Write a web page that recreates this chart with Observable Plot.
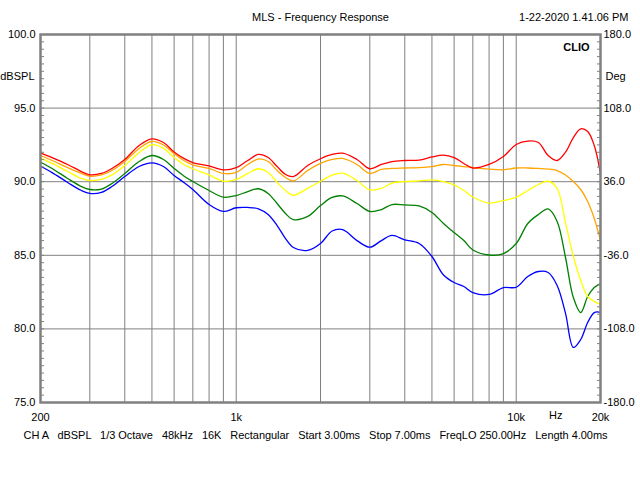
<!DOCTYPE html>
<html>
<head>
<meta charset="utf-8">
<script src="https://cdn.jsdelivr.net/npm/d3@7"></script>
<script src="https://cdn.jsdelivr.net/npm/@observablehq/plot@0.6"></script>
<style>
  html, body { margin: 0; padding: 0; background: #fff; }
  svg text { white-space: pre; }
</style>
</head>
<body>
<div id="chart"></div>
<script>
const freqs = [200,220,250,280,300,330,360,400,450,500,550,600,650,700,800,900,1000,1100,1200,1300,1400,1500,1600,1800,2000,2200,2400,2700,3000,3300,3600,4000,4500,5000,5500,6000,6500,7000,8000,9000,10000,11000,12000,13000,14000,15000,16000,17000,18000,19000,20000];

const redDb = [91.96,91.64,91.17,90.69,90.47, 90.56,90.90,91.51,92.46,92.91, 92.66,92.02,91.58,91.30,91.07, 90.80,90.95,91.44,91.85,91.64, 91.03,90.49,90.35,91.10,91.56, 91.85,91.94,91.51,90.88,91.17, 91.37,91.44,91.47,91.68,91.81, 91.64,91.24,90.93,91.17,91.71, 92.53,92.76,92.66,91.78,91.44, 92.01,93.00,93.59,93.41,92.46, 90.54];
const orangeDb = [91.78,91.44,90.96,90.56,90.37, 90.46,90.76,91.37,92.26,92.73, 92.49,91.91,91.44,91.15,90.90, 90.56,90.63,91.17,91.54,91.37, 90.76,90.29,90.05,90.76,91.24, 91.51,91.58,91.17,90.56,90.83, 90.90,90.93,90.96,91.03,91.17, 91.10,91.03,90.96,90.86,90.81, 90.93,90.93,90.90,90.86,90.76, 90.46,90.01,89.47,88.65,87.50, 86.01];
const yellowDb = [91.60,91.24,90.69,90.22,90.08, 90.15,90.46,91.10,91.98,92.51, 92.26,91.64,91.17,90.88,90.46, 90.03,90.15,90.56,90.88,90.63, 89.95,89.40,89.08,89.55,90.03, 90.45,90.58,90.08,89.45,89.54, 89.91,90.01,90.05,90.13,90.01, 89.78,89.40,88.96,88.55,88.72, 88.95,89.40,89.81,90.03,89.54, 87.20,84.92,83.29,82.20,81.86, 81.66];
const greenDb = [91.32,90.90,90.22,89.67,89.47, 89.50,89.88,90.56,91.37,91.78, 91.51,90.90,90.39,90.01,89.40, 88.95,89.06,89.33,89.52,89.20, 88.52,87.84,87.43,87.64,88.38, 88.93,89.03,88.52,87.98,88.11, 88.45,88.42,88.35,87.91,87.16, 86.55,86.01,85.36,85.02,85.12, 85.80,87.16,87.77,88.15,87.30, 84.85,82.13,81.11,82.20,82.81, 83.08];
const blueDb = [91.05,90.62,89.95,89.40,89.20, 89.27,89.67,90.35,91.03,91.28, 91.03,90.42,89.95,89.47,88.45, 87.98,88.23,88.25,88.16,87.77, 87.02,86.14,85.53,85.33,85.80, 86.65,86.75,86.00,85.55,86.00, 86.35,86.05,85.80,84.92,83.66, 83.15,82.88,82.47,82.34,82.81, 82.83,83.56,83.90,83.83,82.95, 81.05,78.74,79.28,80.43,81.11, 81.13];

const seriesNames = ["blue","green","yellow","orange","red"];
const seriesValues = [blueDb, greenDb, yellowDb, orangeDb, redDb];
const seriesColors = ["#0000c8","#007800","#f4f400","#e07a30","#d00000"];

const dbTicks = [75,80,85,90,95,100];
const degLabels = ["-180.0","-108.0","-36.0","36.0","108.0","180.0"];
const gridFreqs = [300,400,500,600,700,800,900,1000,2000,3000,4000,5000,6000,7000,8000,9000,10000];
const gridDb = [80,85,90,95];
const minorDb = d3.range(75, 100.001, 0.5);
const xTicks = [200,1000,10000,20000];
const xTickLabels = ["200","1k","10k","20k"];

const title = "MLS - Frequency Response";
const dateText = "1-22-2020 1.41.06 PM";
const captionItems = ["CH A","dBSPL","1/3 Octave","48kHz","16K","Rectangular","Start 3.00ms","Stop 7.00ms","FreqLO 250.00Hz","Length 4.00ms"];

const data = seriesNames.flatMap((s, k) => freqs.map((f, i) => ({f, db: seriesValues[k][i], s})));

const grid = "#808080";

const chart = Plot.plot({
  width: 640,
  height: 480,
  marginLeft: 40,
  marginRight: 40,
  marginTop: 34,
  marginBottom: 78,
  style: {fontFamily: "'Liberation Sans', Arial, sans-serif", fontSize: "11px", background: "#fff", color: "#000"},
  x: {type: "log", domain: [200, 20000]},
  y: {domain: [75, 100]},
  color: {domain: seriesNames, range: seriesColors},
  marks: [
    Plot.ruleX(gridFreqs, {stroke: grid, strokeWidth: 1}),
    Plot.ruleY(gridDb, {stroke: grid, strokeWidth: 1}),
    Plot.line(data, {x: "f", y: "db", z: "s", stroke: "s", strokeWidth: 1.3, curve: "catmull-rom"}),
    Plot.frame({stroke: grid, strokeWidth: 2.5}),
    Plot.axisY({anchor: "left", ticks: minorDb, tickSize: 4, dx: 4, text: null, stroke: grid, strokeOpacity: 1, label: null}),
    Plot.axisY({anchor: "right", ticks: minorDb, tickSize: 4, dx: -4, text: null, stroke: grid, strokeOpacity: 1, label: null}),
    Plot.axisY({anchor: "left", ticks: dbTicks, tickSize: 0, tickPadding: 5, tickFormat: d => d.toFixed(1), label: null, fill: "#000"}),
    Plot.axisY({anchor: "right", ticks: dbTicks, tickSize: 0, tickPadding: 3, tickFormat: d => degLabels[dbTicks.indexOf(d)], label: null, fill: "#000"}),
    Plot.axisX({ticks: xTicks, tickSize: 0, tickPadding: 11, tickFormat: d => xTickLabels[xTicks.indexOf(d)], label: null, fill: "#000"}),
    Plot.text(["Hz"], {frameAnchor: "bottom-right", dx: -38, dy: 16, fill: "#000"}),
    Plot.text(["dBSPL"], {frameAnchor: "top-left", textAnchor: "end", dx: -6, dy: 38, fill: "#000"}),
    Plot.text(["Deg"], {frameAnchor: "top-right", textAnchor: "start", dx: 5, dy: 38, fill: "#000"}),
    Plot.text(["CLIO"], {frameAnchor: "top-right", textAnchor: "end", dx: -11, dy: 9, fill: "#000", fontWeight: "bold"}),
    Plot.text([title], {frameAnchor: "top", dy: -21, fill: "#000"}),
    Plot.text([dateText], {frameAnchor: "top-right", textAnchor: "end", dx: 28, dy: -21, fill: "#000"}),
    Plot.text([captionItems.join("   ")], {frameAnchor: "bottom", dx: -5, dy: 36, fill: "#000", className: "caption"})
  ]
});
document.getElementById("chart").appendChild(chart);
const cap = chart.querySelector(".caption text");
if (cap) { cap.setAttribute("textLength", "584"); cap.setAttribute("lengthAdjust", "spacing"); }
</script>
</body>
</html>
